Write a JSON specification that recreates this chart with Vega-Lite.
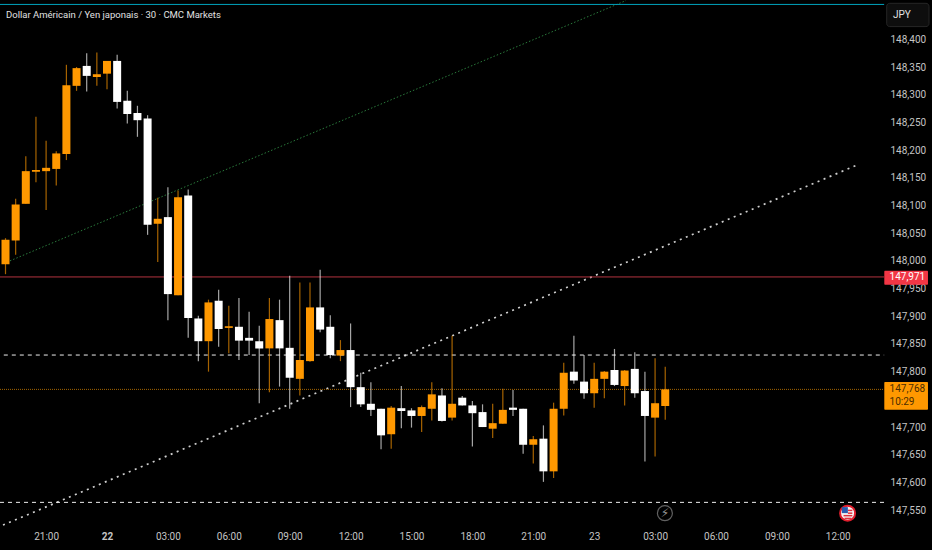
{
  "$schema": "https://vega.github.io/schema/vega-lite/v6.json",
  "description": "USD/JPY 30 min candles",
  "width": 932,
  "height": 550,
  "padding": 0,
  "autosize": "none",
  "background": "#000000",
  "config": {"view": {"stroke": null}, "axis": {"grid": false, "domain": false, "ticks": false, "title": null}},
  "datasets": {
    "candles": [
      {"t":"2025-07-21T19:00:00Z","open":147.994,"high":148.041,"low":147.976,"close":148.038},
      {"t":"2025-07-21T19:30:00Z","open":148.037,"high":148.112,"low":148.011,"close":148.102},
      {"t":"2025-07-21T20:00:00Z","open":148.103,"high":148.189,"low":148.103,"close":148.162},
      {"t":"2025-07-21T20:30:00Z","open":148.161,"high":148.260,"low":148.142,"close":148.164},
      {"t":"2025-07-21T21:00:00Z","open":148.162,"high":148.217,"low":148.092,"close":148.168},
      {"t":"2025-07-21T21:30:00Z","open":148.166,"high":148.198,"low":148.136,"close":148.194},
      {"t":"2025-07-21T22:00:00Z","open":148.193,"high":148.354,"low":148.182,"close":148.317},
      {"t":"2025-07-21T22:30:00Z","open":148.316,"high":148.350,"low":148.307,"close":148.348},
      {"t":"2025-07-21T23:00:00Z","open":148.352,"high":148.375,"low":148.306,"close":148.334},
      {"t":"2025-07-21T23:30:00Z","open":148.332,"high":148.376,"low":148.316,"close":148.337},
      {"t":"2025-07-22T00:00:00Z","open":148.338,"high":148.361,"low":148.310,"close":148.361},
      {"t":"2025-07-22T00:30:00Z","open":148.361,"high":148.372,"low":148.275,"close":148.287},
      {"t":"2025-07-22T01:00:00Z","open":148.289,"high":148.307,"low":148.248,"close":148.265},
      {"t":"2025-07-22T01:30:00Z","open":148.267,"high":148.280,"low":148.224,"close":148.254},
      {"t":"2025-07-22T02:00:00Z","open":148.257,"high":148.263,"low":148.047,"close":148.065},
      {"t":"2025-07-22T02:30:00Z","open":148.067,"high":148.114,"low":147.998,"close":148.076},
      {"t":"2025-07-22T03:00:00Z","open":148.079,"high":148.133,"low":147.893,"close":147.940},
      {"t":"2025-07-22T03:30:00Z","open":147.938,"high":148.127,"low":147.938,"close":148.115},
      {"t":"2025-07-22T04:00:00Z","open":148.118,"high":148.129,"low":147.861,"close":147.897},
      {"t":"2025-07-22T04:30:00Z","open":147.896,"high":147.901,"low":147.819,"close":147.855},
      {"t":"2025-07-22T05:00:00Z","open":147.855,"high":147.930,"low":147.800,"close":147.925},
      {"t":"2025-07-22T05:30:00Z","open":147.928,"high":147.948,"low":147.845,"close":147.877},
      {"t":"2025-07-22T06:00:00Z","open":147.879,"high":147.919,"low":147.833,"close":147.882},
      {"t":"2025-07-22T06:30:00Z","open":147.881,"high":147.933,"low":147.821,"close":147.856},
      {"t":"2025-07-22T07:00:00Z","open":147.861,"high":147.908,"low":147.830,"close":147.856},
      {"t":"2025-07-22T07:30:00Z","open":147.855,"high":147.883,"low":147.743,"close":147.842},
      {"t":"2025-07-22T08:00:00Z","open":147.842,"high":147.933,"low":147.763,"close":147.895},
      {"t":"2025-07-22T08:30:00Z","open":147.893,"high":147.930,"low":147.773,"close":147.842},
      {"t":"2025-07-22T09:00:00Z","open":147.843,"high":147.973,"low":147.733,"close":147.789},
      {"t":"2025-07-22T09:30:00Z","open":147.787,"high":147.961,"low":147.757,"close":147.821},
      {"t":"2025-07-22T10:00:00Z","open":147.819,"high":147.961,"low":147.818,"close":147.916},
      {"t":"2025-07-22T10:30:00Z","open":147.916,"high":147.984,"low":147.871,"close":147.876},
      {"t":"2025-07-22T11:00:00Z","open":147.881,"high":147.902,"low":147.824,"close":147.830},
      {"t":"2025-07-22T11:30:00Z","open":147.829,"high":147.857,"low":147.819,"close":147.839},
      {"t":"2025-07-22T12:00:00Z","open":147.839,"high":147.887,"low":147.736,"close":147.772},
      {"t":"2025-07-22T12:30:00Z","open":147.772,"high":147.798,"low":147.736,"close":147.741},
      {"t":"2025-07-22T13:00:00Z","open":147.742,"high":147.781,"low":147.720,"close":147.731},
      {"t":"2025-07-22T13:30:00Z","open":147.733,"high":147.733,"low":147.660,"close":147.685},
      {"t":"2025-07-22T14:00:00Z","open":147.687,"high":147.738,"low":147.661,"close":147.735},
      {"t":"2025-07-22T14:30:00Z","open":147.734,"high":147.774,"low":147.698,"close":147.729},
      {"t":"2025-07-22T15:00:00Z","open":147.730,"high":147.734,"low":147.699,"close":147.720},
      {"t":"2025-07-22T15:30:00Z","open":147.720,"high":147.739,"low":147.691,"close":147.736},
      {"t":"2025-07-22T16:00:00Z","open":147.733,"high":147.781,"low":147.712,"close":147.759},
      {"t":"2025-07-22T16:30:00Z","open":147.757,"high":147.770,"low":147.710,"close":147.711},
      {"t":"2025-07-22T17:00:00Z","open":147.717,"high":147.865,"low":147.712,"close":147.742},
      {"t":"2025-07-22T17:30:00Z","open":147.753,"high":147.756,"low":147.739,"close":147.739},
      {"t":"2025-07-22T18:00:00Z","open":147.739,"high":147.747,"low":147.665,"close":147.725},
      {"t":"2025-07-22T18:30:00Z","open":147.727,"high":147.741,"low":147.700,"close":147.700},
      {"t":"2025-07-22T19:00:00Z","open":147.697,"high":147.742,"low":147.680,"close":147.707},
      {"t":"2025-07-22T19:30:00Z","open":147.706,"high":147.769,"low":147.706,"close":147.731},
      {"t":"2025-07-22T20:00:00Z","open":147.735,"high":147.767,"low":147.720,"close":147.731},
      {"t":"2025-07-22T20:30:00Z","open":147.733,"high":147.733,"low":147.652,"close":147.668},
      {"t":"2025-07-22T21:00:00Z","open":147.668,"high":147.684,"low":147.634,"close":147.678},
      {"t":"2025-07-22T21:30:00Z","open":147.679,"high":147.703,"low":147.601,"close":147.620},
      {"t":"2025-07-22T22:00:00Z","open":147.620,"high":147.744,"low":147.608,"close":147.733},
      {"t":"2025-07-22T22:30:00Z","open":147.733,"high":147.816,"low":147.721,"close":147.798},
      {"t":"2025-07-22T23:00:00Z","open":147.800,"high":147.865,"low":147.778,"close":147.784},
      {"t":"2025-07-22T23:30:00Z","open":147.782,"high":147.830,"low":147.751,"close":147.761},
      {"t":"2025-07-23T00:00:00Z","open":147.761,"high":147.816,"low":147.735,"close":147.787},
      {"t":"2025-07-23T00:30:00Z","open":147.787,"high":147.801,"low":147.752,"close":147.800},
      {"t":"2025-07-23T01:00:00Z","open":147.803,"high":147.841,"low":147.774,"close":147.776},
      {"t":"2025-07-23T01:30:00Z","open":147.774,"high":147.803,"low":147.739,"close":147.802},
      {"t":"2025-07-23T02:00:00Z","open":147.805,"high":147.835,"low":147.753,"close":147.761},
      {"t":"2025-07-23T02:30:00Z","open":147.765,"high":147.800,"low":147.638,"close":147.720},
      {"t":"2025-07-23T03:00:00Z","open":147.717,"high":147.824,"low":147.647,"close":147.743},
      {"t":"2025-07-23T03:30:00Z","open":147.738,"high":147.809,"low":147.713,"close":147.768}
    ]
  },
  "layer": [
    {
      "data": {"values": [
        {"t":"2025-07-21T19:13:00Z","price":148.000},
        {"t":"2025-07-23T01:34:00Z","price":148.470}
      ]},
      "mark": {"type": "line", "color": "#2a7a3c", "strokeWidth": 1, "strokeDash": [1.5, 2]},
      "encoding": {
        "x": {
          "field": "t",
          "type": "temporal",
          "scale": {"type": "utc", "nice": false, "padding": 0, "domain": ["2025-07-21T18:43:44Z", "2025-07-23T16:38:30Z"]},
          "axis": {
            "orient": "bottom",
            "offset": -19,
            "zindex": 0,
            "tickCount": 30,
            "values": ["2025-07-21T21:00:00Z","2025-07-22T00:00:00Z","2025-07-22T03:00:00Z","2025-07-22T06:00:00Z","2025-07-22T09:00:00Z","2025-07-22T12:00:00Z","2025-07-22T15:00:00Z","2025-07-22T18:00:00Z","2025-07-22T21:00:00Z","2025-07-23T00:00:00Z","2025-07-23T03:00:00Z","2025-07-23T06:00:00Z","2025-07-23T09:00:00Z","2025-07-23T12:00:00Z"],
            "labelExpr": "utchours(datum.value) == 0 ? utcFormat(datum.value, '%d') : utcFormat(datum.value, '%H:%M')",
            "labelColor": "#c4c4c4",
            "labelFont": "Roboto",
            "labelFontSize": 10,
            "labelPadding": 0,
            "labelOverlap": false,
            "labelFontWeight": {"condition": {"test": "utcdate(datum.value) == 22 && utchours(datum.value) == 0", "value": "bold"}, "value": "normal"}
          }
        },
        "y": {
          "field": "price",
          "type": "quantitative",
          "scale": {"nice": false, "zero": false, "domain": [147.478, 148.471]},
          "axis": {
            "orient": "right",
            "offset": -42,
            "zindex": 0,
            "tickCount": 30,
            "values": [147.55,147.6,147.65,147.7,147.8,147.85,147.9,147.95,148,148.05,148.1,148.15,148.2,148.25,148.3,148.35,148.4],
            "labelExpr": "replace(format(datum.value, '.3f'), '.', ',')",
            "labelColor": "#c4c4c4",
            "labelFont": "Roboto",
            "labelFontSize": 10,
            "labelPadding": 0,
            "labelOverlap": false,
            "labelAlign": "left"
          }
        }
      }
    },
    {
      "data": {"values": [
        {"t":"2025-07-21T18:52:36Z","price":147.523},
        {"t":"2025-07-23T12:57:00Z","price":148.173}
      ]},
      "mark": {"type": "line", "color": "#cfcfcf", "strokeWidth": 1.7, "strokeDash": [2, 4.5]},
      "encoding": {
        "x": {"field": "t", "type": "temporal"},
        "y": {"field": "price", "type": "quantitative"}
      }
    },
    {
      "data": {"values": [
        {"t":"2025-07-21T18:43:44Z","t2":"2025-07-23T14:17:00Z","price":148.463}
      ]},
      "mark": {"type": "rule", "color": "#00a3bd", "strokeWidth": 1},
      "encoding": {
        "x": {"field": "t", "type": "temporal"},
        "x2": {"field": "t2"},
        "y": {"field": "price", "type": "quantitative"}
      }
    },
    {
      "data": {"values": [
        {"t":"2025-07-21T18:43:44Z","t2":"2025-07-23T14:17:00Z","price":147.971}
      ]},
      "mark": {"type": "rule", "color": "#b2333f", "strokeWidth": 1},
      "encoding": {
        "x": {"field": "t", "type": "temporal"},
        "x2": {"field": "t2"},
        "y": {"field": "price", "type": "quantitative"}
      }
    },
    {
      "data": {"values": [
        {"t":"2025-07-21T18:43:44Z","t2":"2025-07-23T14:17:00Z","price":147.768}
      ]},
      "mark": {"type": "rule", "color": "#a36500", "strokeWidth": 1, "strokeDash": [1, 1]},
      "encoding": {
        "x": {"field": "t", "type": "temporal"},
        "x2": {"field": "t2"},
        "y": {"field": "price", "type": "quantitative"}
      }
    },
    {
      "data": {"values": [
        {"t":"2025-07-21T18:55:00Z","t2":"2025-07-23T14:17:00Z","price":147.830},
        {"t":"2025-07-21T18:43:44Z","t2":"2025-07-23T14:17:00Z","price":147.564}
      ]},
      "mark": {"type": "rule", "color": "#eeeeee", "strokeWidth": 1, "strokeDash": [4, 4]},
      "encoding": {
        "x": {"field": "t", "type": "temporal"},
        "x2": {"field": "t2"},
        "y": {"field": "price", "type": "quantitative"}
      }
    },
    {
      "data": {"name": "candles"},
      "mark": {"type": "rule", "strokeWidth": 1.2, "opacity": 0.65},
      "encoding": {
        "x": {"field": "t", "type": "temporal"},
        "y": {"field": "low", "type": "quantitative"},
        "y2": {"field": "high"},
        "color": {"condition": {"test": "datum.close >= datum.open", "value": "#ff9800"}, "value": "#ffffff"}
      }
    },
    {
      "data": {"name": "candles"},
      "mark": {"type": "bar", "size": 8},
      "encoding": {
        "x": {"field": "t", "type": "temporal"},
        "y": {"field": "open", "type": "quantitative"},
        "y2": {"field": "close"},
        "color": {"condition": {"test": "datum.close >= datum.open", "value": "#ff9800"}, "value": "#ffffff"}
      }
    },
    {
      "data": {"values": [
        {"t":"2025-07-23T14:17:30Z","t2":"2025-07-23T16:26:36Z","p":147.982,"p2":147.957}
      ]},
      "mark": {"type": "rect", "color": "#f23645", "cornerRadius": 1},
      "encoding": {
        "x": {"field": "t", "type": "temporal"},
        "x2": {"field": "t2"},
        "y": {"field": "p", "type": "quantitative"},
        "y2": {"field": "p2"}
      }
    },
    {
      "data": {"values": [
        {"t":"2025-07-23T14:17:30Z","t2":"2025-07-23T16:26:36Z","p":147.7815,"p2":147.731}
      ]},
      "mark": {"type": "rect", "color": "#ff9800", "cornerRadius": 1},
      "encoding": {
        "x": {"field": "t", "type": "temporal"},
        "x2": {"field": "t2"},
        "y": {"field": "p", "type": "quantitative"},
        "y2": {"field": "p2"}
      }
    },
    {
      "data": {"values": [
        {"t":"2025-07-23T14:24:36Z","t2":"2025-07-23T16:29:36Z","p":148.465,"p2":148.423}
      ]},
      "mark": {"type": "rect", "color": "#0e0e0e", "stroke": "#262626", "cornerRadius": 3},
      "encoding": {
        "x": {"field": "t", "type": "temporal"},
        "x2": {"field": "t2"},
        "y": {"field": "p", "type": "quantitative"},
        "y2": {"field": "p2"}
      }
    },
    {
      "data": {"values": [
        {"t":"2025-07-21T19:01:30Z","price":148.444,"label":"Dollar Américain / Yen japonais · 30 · CMC Markets"}
      ]},
      "mark": {"type": "text", "align": "left", "baseline": "middle", "font": "Roboto", "fontSize": 9.5, "color": "#e0e0e0"},
      "encoding": {
        "x": {"field": "t", "type": "temporal"},
        "y": {"field": "price", "type": "quantitative"},
        "text": {"field": "label"}
      }
    },
    {
      "data": {"values": [
        {"t":"2025-07-23T14:43:00Z","price":148.444,"label":"JPY","tone":"title"},
        {"t":"2025-07-23T14:33:00Z","price":147.970,"label":"147,971","tone":"last"},
        {"t":"2025-07-23T14:33:00Z","price":147.769,"label":"147,768","tone":"dark"},
        {"t":"2025-07-23T14:33:00Z","price":147.746,"label":"10:29","tone":"dark"}
      ]},
      "mark": {"type": "text", "align": "left", "baseline": "middle", "font": "Roboto", "fontSize": 10},
      "encoding": {
        "x": {"field": "t", "type": "temporal"},
        "y": {"field": "price", "type": "quantitative"},
        "text": {"field": "label"},
        "color": {
          "field": "tone",
          "type": "nominal",
          "legend": null,
          "scale": {"domain": ["title", "last", "dark"], "range": ["#e0e0e0", "#ffffff", "#4a2c00"]}
        }
      }
    },
    {
      "data": {"values": [
        {"t":"2025-07-23T03:29:00Z","price":147.5445}
      ]},
      "mark": {"type": "point", "shape": "circle", "size": 225, "filled": false, "stroke": "#8a8a8a", "strokeWidth": 1.2},
      "encoding": {
        "x": {"field": "t", "type": "temporal"},
        "y": {"field": "price", "type": "quantitative"}
      }
    },
    {
      "data": {"values": [
        {"t":"2025-07-23T03:29:00Z","price":147.5445,"label":"⚡"}
      ]},
      "mark": {"type": "text", "align": "center", "baseline": "middle", "font": "DejaVu Sans", "fontSize": 12, "color": "#9a9a9a"},
      "encoding": {
        "x": {"field": "t", "type": "temporal"},
        "y": {"field": "price", "type": "quantitative"},
        "text": {"field": "label"}
      }
    },
    {
      "data": {"values": [
        {"t":"2025-07-23T12:29:00Z","price":147.5445}
      ]},
      "mark": {"type": "point", "shape": "circle", "size": 225, "filled": true, "fill": "#f4f4f4", "opacity": 1, "stroke": "#e01e2d", "strokeWidth": 2},
      "encoding": {
        "x": {"field": "t", "type": "temporal"},
        "y": {"field": "price", "type": "quantitative"}
      }
    },
    {
      "data": {"values": [
        {"t":"2025-07-23T12:30:00Z","t2":"2025-07-23T12:43:00Z","price":147.5495},
        {"t":"2025-07-23T12:30:00Z","t2":"2025-07-23T12:43:00Z","price":147.5445},
        {"t":"2025-07-23T12:17:00Z","t2":"2025-07-23T12:43:00Z","price":147.540},
        {"t":"2025-07-23T12:20:00Z","t2":"2025-07-23T12:40:00Z","price":147.535}
      ]},
      "mark": {"type": "rule", "color": "#e0303c", "strokeWidth": 1.5},
      "encoding": {
        "x": {"field": "t", "type": "temporal"},
        "x2": {"field": "t2"},
        "y": {"field": "price", "type": "quantitative"}
      }
    },
    {
      "data": {"values": [
        {"t":"2025-07-23T12:21:00Z","price":147.550}
      ]},
      "mark": {"type": "point", "shape": "square", "size": 36, "filled": true, "fill": "#2a5db0", "opacity": 1},
      "encoding": {
        "x": {"field": "t", "type": "temporal"},
        "y": {"field": "price", "type": "quantitative"}
      }
    }
  ]
}
